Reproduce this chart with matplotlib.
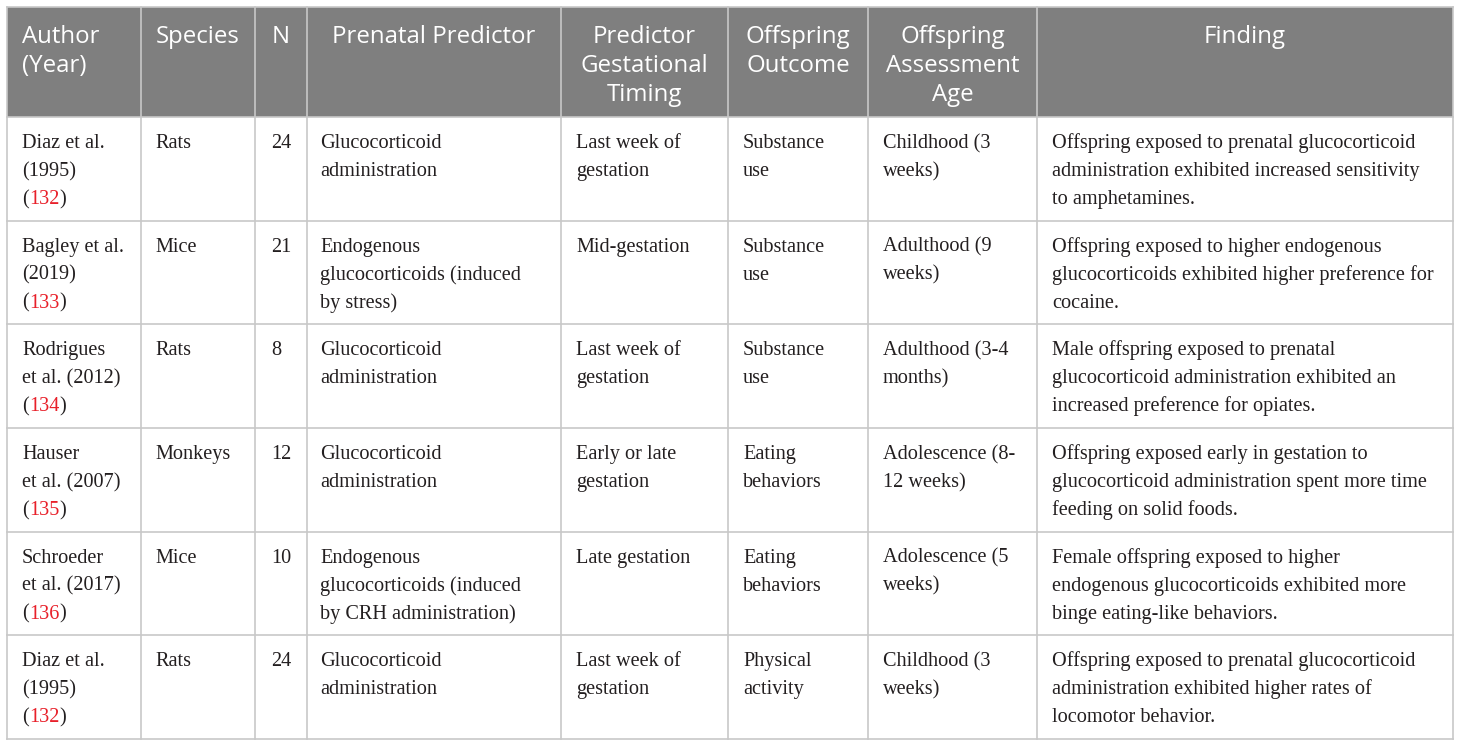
import matplotlib
matplotlib.use("Agg")
import matplotlib.pyplot as plt
from matplotlib.font_manager import FontProperties
import numpy as np

# table content
headers = [
    ["Author", "(Year)"],
    ["Species"],
    ["N"],
    ["Prenatal Predictor"],
    ["Predictor", "Gestational", "Timing"],
    ["Offspring", "Outcome"],
    ["Offspring", "Assessment", "Age"],
    ["Finding"],
]
header_align = ["left", "center", "center", "center", "center", "center", "center", "center"]

authors = [
    ["Diaz et al.", "(1995)"],
    ["Bagley et al.", "(2019)"],
    ["Rodrigues", "et al. (2012)"],
    ["Hauser", "et al. (2007)"],
    ["Schroeder", "et al. (2017)"],
    ["Diaz et al.", "(1995)"],
]
refs = ["132", "133", "134", "135", "136", "132"]
species = ["Rats", "Mice", "Rats", "Monkeys", "Mice", "Rats"]
n_values = ["24", "21", "8", "12", "10", "24"]
predictors = [
    ["Glucocorticoid", "administration"],
    ["Endogenous", "glucocorticoids (induced", "by stress)"],
    ["Glucocorticoid", "administration"],
    ["Glucocorticoid", "administration"],
    ["Endogenous", "glucocorticoids (induced", "by CRH administration)"],
    ["Glucocorticoid", "administration"],
]
timing = [
    ["Last week of", "gestation"],
    ["Mid-gestation"],
    ["Last week of", "gestation"],
    ["Early or late", "gestation"],
    ["Late gestation"],
    ["Last week of", "gestation"],
]
outcomes = [
    ["Substance", "use"],
    ["Substance", "use"],
    ["Substance", "use"],
    ["Eating", "behaviors"],
    ["Eating", "behaviors"],
    ["Physical", "activity"],
]
ages = [
    ["Childhood (3", "weeks)"],
    ["Adulthood (9", "weeks)"],
    ["Adulthood (3-4", "months)"],
    ["Adolescence (8-", "12 weeks)"],
    ["Adolescence (5", "weeks)"],
    ["Childhood (3", "weeks)"],
]
findings = [
    ["Offspring exposed to prenatal glucocorticoid",
     "administration exhibited increased sensitivity",
     "to amphetamines."],
    ["Offspring exposed to higher endogenous",
     "glucocorticoids exhibited higher preference for",
     "cocaine."],
    ["Male offspring exposed to prenatal",
     "glucocorticoid administration exhibited an",
     "increased preference for opiates."],
    ["Offspring exposed early in gestation to",
     "glucocorticoid administration spent more time",
     "feeding on solid foods."],
    ["Female offspring exposed to higher",
     "endogenous glucocorticoids exhibited more",
     "binge eating-like behaviors."],
    ["Offspring exposed to prenatal glucocorticoid",
     "administration exhibited higher rates of",
     "locomotor behavior."],
]

# layout in pixels
W, H = 1460, 747
col_edges = [7, 141, 255, 307, 561, 728, 868, 1037, 1453]
header_top, header_bot = 7, 117
row_edges = np.linspace(117, 739, 7)
grid_col = "#c8c8c8"
head_bg = "#7f7f7f"
red = "#e8202a"

head_font = dict(family="Open Sans", size=17.3, color="white")
body_font = dict(family="Liberation Serif", size=14.6, color="#231f20")

fig = plt.figure(figsize=(W / 100, H / 100), dpi=100)
ax = fig.add_axes([0, 0, 1, 1])
ax.set_xlim(0, W)
ax.set_ylim(H, 0)
ax.axis("off")

ax.add_patch(plt.Rectangle((col_edges[0], header_top), col_edges[-1] - col_edges[0],
                           header_bot - header_top, color=head_bg, lw=0))

# grid
for x in col_edges:
    ax.plot([x, x], [header_top, row_edges[-1]], color=grid_col, lw=1.2)
for y in [header_top] + list(row_edges):
    ax.plot([col_edges[0], col_edges[-1]], [y, y], color=grid_col, lw=1.2)

# header text
for i, lines in enumerate(headers):
    x0, x1 = col_edges[i], col_edges[i + 1]
    for k, line in enumerate(lines):
        y = header_top + 36 + 29 * k
        if header_align[i] == "left":
            ax.text(x0 + 15, y, line, ha="left", va="baseline", **head_font)
        else:
            ax.text((x0 + x1) / 2, y, line, ha="center", va="baseline", **head_font)

fig.canvas.draw()
renderer = fig.canvas.get_renderer()
body_prop = FontProperties(family=body_font["family"], size=body_font["size"])


def text_w(s):
    w, h, d = renderer.get_text_width_height_descent(s, body_prop, ismath=False)
    return w


def put_lines(col, top, lines, pad=15):
    for k, line in enumerate(lines):
        ax.text(col_edges[col] + pad, top + 31 + 28 * k, line,
                ha="left", va="baseline", **body_font)


for r in range(len(authors)):
    top = row_edges[r]
    put_lines(0, top, authors[r])
    # citation line "(ref)" with red number
    y = top + 31 + 28 * len(authors[r])
    x0 = col_edges[0] + 15
    full = "(" + refs[r] + ")"
    x_num = x0 + text_w("(" + refs[r]) - text_w(refs[r])
    x_close = x0 + text_w(full) - text_w(")")
    ax.text(x0, y, "(", ha="left", va="baseline", **body_font)
    ax.text(x_num, y, refs[r], ha="left", va="baseline",
            **{**body_font, "color": red})
    ax.text(x_close, y, ")", ha="left", va="baseline", **body_font)

    put_lines(1, top, [species[r]], pad=14)
    put_lines(2, top, [n_values[r]], pad=16)
    put_lines(3, top, predictors[r], pad=13)
    put_lines(4, top, timing[r])
    put_lines(5, top, outcomes[r])
    put_lines(6, top, ages[r])
    put_lines(7, top, findings[r])

fig.savefig("out.png", dpi=100)
